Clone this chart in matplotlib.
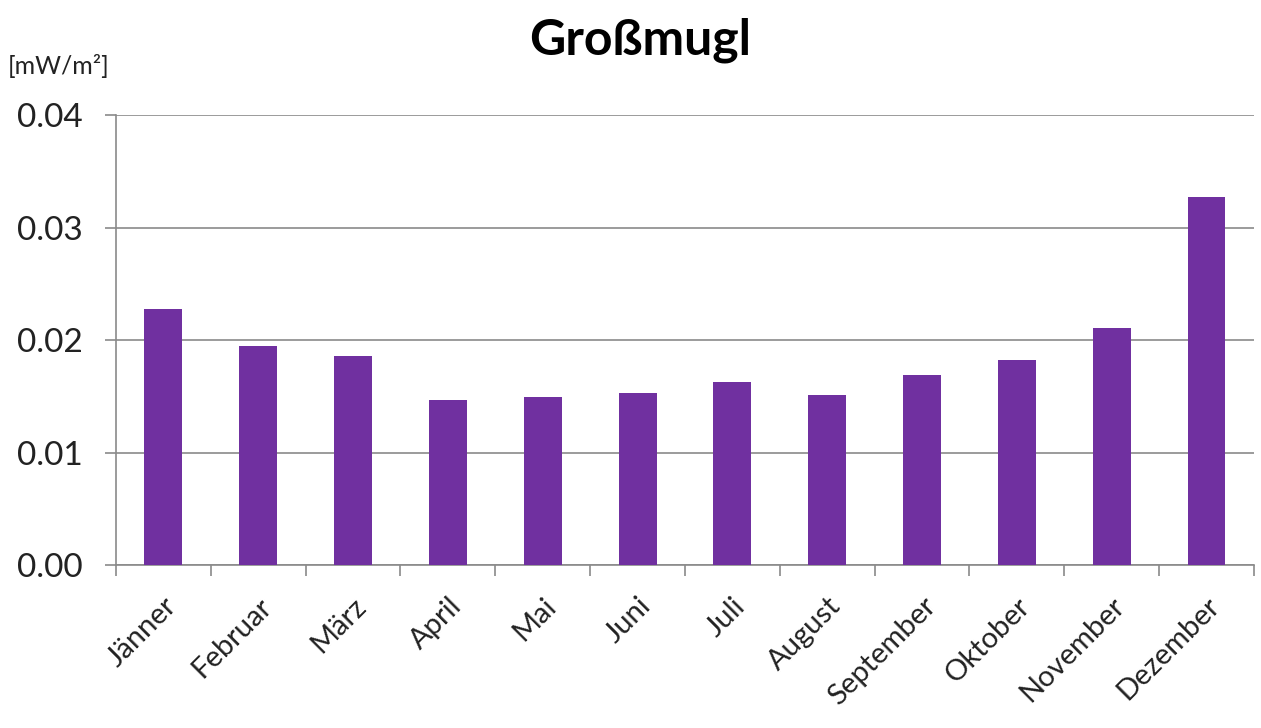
import matplotlib
matplotlib.use('Agg')
import matplotlib.pyplot as plt
import numpy as np

# monthly mean values, Großmugl
months = ['Jänner', 'Februar', 'März', 'April', 'Mai', 'Juni', 'Juli',
          'August', 'September', 'Oktober', 'November', 'Dezember']
values = [0.0228, 0.0195, 0.0186, 0.0147, 0.0149, 0.0153, 0.0163,
          0.0151, 0.0169, 0.0182, 0.0211, 0.0327]
yticks = [0.00, 0.01, 0.02, 0.03, 0.04]

plt.rcParams['font.family'] = ['Lato', 'DejaVu Sans']
GRID = '#8a8a8a'
BAR = '#7030a0'

fig = plt.figure(figsize=(12.61, 7.28), dpi=100)
ax = fig.add_axes([0.092, 0.2239, 0.9024, 0.6181])

x = np.arange(len(months))
ax.bar(x, values, width=0.4, color=BAR, zorder=3)

ax.set_xlim(-0.5, len(months) - 0.5)
ax.set_ylim(0, 0.04)
ax.set_yticks(yticks)
ax.set_yticklabels([f'{v:.2f}' for v in yticks], fontsize=24, color='#222222')
ax.yaxis.grid(True, color=GRID, lw=1.2, zorder=0)

# category ticks sit between the bars
ax.set_xticks(np.arange(len(months) + 1) - 0.5)
ax.set_xticklabels([])
ax.set_xticks(x, minor=True)
ax.set_xticklabels(months, minor=True, rotation=45, ha='right',
                   rotation_mode='anchor', fontsize=21, color='#222222')
ax.tick_params(axis='x', which='minor', length=0, pad=20)
ax.tick_params(axis='x', which='major', length=8, color=GRID, width=1.2)
ax.tick_params(axis='y', length=8, color=GRID, width=1.2, pad=16)

for s in ['top', 'right']:
    ax.spines[s].set_visible(False)
for s in ['left', 'bottom']:
    ax.spines[s].set_color(GRID)
    ax.spines[s].set_linewidth(1.2)

fig.text(0.508, 0.945, 'Großmugl', ha='center', va='center',
         fontsize=36, fontweight='bold')
fig.text(0.006, 0.91, '[mW/m²]', ha='left', va='center', fontsize=18,
         color='#222222')

fig.savefig('out.png', dpi=100)
